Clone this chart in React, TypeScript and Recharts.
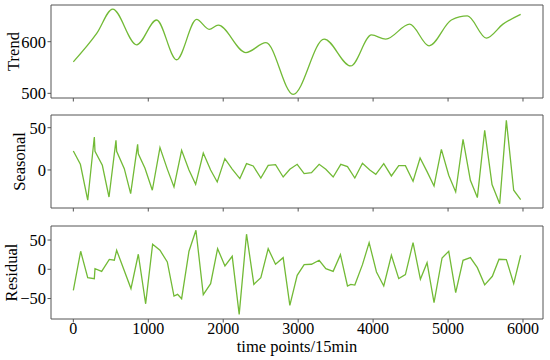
import React from 'react';
import { LineChart, Line, XAxis, YAxis, ReferenceArea } from 'recharts';

// ---------- data ----------
const xTicks = [0, 1000, 2000, 3000, 4000, 5000, 6000];
const xDomain: [number, number] = [-298, 6267];

const trendTime = [0, 312, 525, 845, 1111, 1378, 1645, 1813, 1933, 2303, 2570, 2933, 3347, 3702, 3978, 4169, 4489, 4747, 5044, 5258, 5511, 5733, 5969];
const trendValues = [561, 616, 663, 594, 642, 565, 643, 624, 632, 579, 598, 498, 605, 553, 613, 605, 634, 592, 642, 650, 607, 634, 653];
const trendTicks = [500, 600];
const trendDomain: [number, number] = [491, 671];

const seasonalTime = [0, 94, 192, 280, 289, 387, 476, 569, 578, 680, 765, 858, 867, 956, 1054, 1156, 1254, 1343, 1445, 1543, 1632, 1734, 1832, 1920, 2022, 2120, 2222, 2311, 2400, 2502, 2600, 2698, 2800, 2889, 2987, 3080, 3178, 3280, 3369, 3467, 3569, 3658, 3756, 3858, 3956, 4036, 4142, 4244, 4342, 4431, 4533, 4627, 4720, 4813, 4911, 5009, 5102, 5200, 5298, 5391, 5489, 5587, 5689, 5778, 5876, 5969];
const seasonalValues = [22.5, 6.7, -35.8, 39, 22, 5.5, -32, 35, 22, 1.5, -28, 30.3, 19, 2, -24, 26.4, 1, -20, 23.2, 0, -17, 20, 0, -14.2, 13.4, 1, -10.2, 7.5, 4.7, -9.5, 5.5, 6.3, -8.3, 0.8, 6.7, -4.3, -3.2, 6.7, 0.8, -8.3, 6.7, 3.9, -9.5, 7.9, 0, -5.1, 7.5, -7.1, 5.1, 5.1, -13.4, 14.2, -2, -18.9, 24.4, -6.3, -26, 36.2, -12.2, -32.7, 46.9, -17.3, -40, 58.7, -24, -35];
const seasonalTicks = [0, 50];
const seasonalDomain: [number, number] = [-45, 65];

const residualTime = [0, 98, 192, 280, 289, 378, 480, 547, 578, 769, 867, 965, 1058, 1156, 1254, 1343, 1391, 1445, 1543, 1636, 1734, 1832, 1925, 2023, 2120, 2213, 2311, 2409, 2502, 2600, 2698, 2800, 2889, 2987, 3080, 3178, 3280, 3369, 3467, 3564, 3658, 3702, 3756, 3858, 3947, 4045, 4142, 4244, 4342, 4431, 4533, 4631, 4720, 4813, 4920, 5009, 5102, 5200, 5298, 5391, 5489, 5591, 5680, 5778, 5876, 5969];
const residualValues = [-36, 30.8, -14.4, -16, 1, -3.5, 17, 15.5, 32.5, -33, 25.7, -59, 42.8, 32.5, 12.5, -45.7, -42.8, -50.3, 30.8, 66.8, -43.5, -24.6, 35.3, 5.7, 22.2, -77, 60, -25.7, -14.4, 35.3, 8.6, 19.9, -61.6, -10.3, 7.9, 8.6, 15.4, 1, -3.5, 25, -28.6, -25.7, -27, 7.9, 45.5, -4.6, -28.6, 24, -16, -9.2, 45.5, -17.2, 11.3, -57, 19.3, 30.8, -40, 15.4, 19.9, 2.8, -26.6, -12, 17.1, 16.5, -24.6, 24];
const residualTicks = [-50, 0, 50];
const residualDomain: [number, number] = [-85, 74];

// ---------- style ----------
const FONT = '"Liberation Serif", "Times New Roman", Times, serif';
const LINE_COLOR = '#72ba36';
const SPINE = '#555555';
const W = 550;
const H = 360;
const PLOT_H = 93;
const XAXIS_H = 30;

const toRows = (ts: number[], vs: number[]) => ts.map((t, i) => ({ t, v: vs[i] }));
const fmtMinus = (v: number) => String(v).replace('-', '\u2212');

const EmptyTick = () => <g />;

type PanelProps = {
  rows: { t: number; v: number }[];
  top: number;
  domain: [number, number];
  ticks: number[];
  showXLabels: boolean;
  curve: 'monotone' | 'linear';
};

function Panel({ rows, top, domain, ticks, showXLabels, curve }: PanelProps) {
  return (
    <div style={{ position: 'absolute', left: 0, top: 0, width: W, height: H }}>
      <LineChart
        width={W}
        height={H}
        data={rows}
        margin={{ top, right: 7, left: 0, bottom: H - top - PLOT_H - XAXIS_H }}
      >
        <XAxis
          dataKey="t"
          type="number"
          domain={xDomain}
          ticks={xTicks}
          interval={0}
          allowDataOverflow
          height={XAXIS_H}
          axisLine={false}
          tickLine={{ stroke: SPINE, strokeWidth: 1 }}
          tickSize={3.5}
          tickMargin={0}
          tick={showXLabels ? { fill: '#000', fontSize: 16, fontFamily: FONT } : EmptyTick}
        />
        <YAxis
          type="number"
          domain={domain}
          ticks={ticks}
          interval={0}
          allowDataOverflow
          width={51}
          axisLine={false}
          tickLine={{ stroke: SPINE, strokeWidth: 1 }}
          tickSize={3.5}
          tickMargin={1.5}
          tickFormatter={fmtMinus}
          tick={{ fill: '#000', fontSize: 16.5, fontFamily: FONT }}
        />
        <ReferenceArea
          x1={xDomain[0]}
          x2={xDomain[1]}
          y1={domain[0]}
          y2={domain[1]}
          fill="none"
          fillOpacity={0}
          stroke={SPINE}
          strokeWidth={1}
          ifOverflow="visible"
        />
        <Line
          dataKey="v"
          type={curve}
          stroke={LINE_COLOR}
          strokeWidth={1.3}
          dot={false}
          activeDot={false}
          isAnimationActive={false}
        />
      </LineChart>
    </div>
  );
}

export default function App() {
  const titleStyle: React.CSSProperties = { fontFamily: FONT, fontSize: 16.5, fill: '#000' };
  return (
    <div style={{ position: 'absolute', left: 0, top: 0, width: W, height: H, background: '#fff', overflow: 'hidden' }}>
      <Panel rows={toRows(trendTime, trendValues)} top={5} domain={trendDomain} ticks={trendTicks} showXLabels={false} curve="monotone" />
      <Panel rows={toRows(seasonalTime, seasonalValues)} top={115} domain={seasonalDomain} ticks={seasonalTicks} showXLabels={false} curve="linear" />
      <Panel rows={toRows(residualTime, residualValues)} top={226} domain={residualDomain} ticks={residualTicks} showXLabels={true} curve="linear" />
      <svg width={W} height={H} style={{ position: 'absolute', left: 0, top: 0, pointerEvents: 'none' }}>
        <text transform="translate(18.5,51.5) rotate(-90)" textAnchor="middle" style={titleStyle}>Trend</text>
        <text transform="translate(25,161.5) rotate(-90)" textAnchor="middle" style={titleStyle}>Seasonal</text>
        <text transform="translate(17,272.5) rotate(-90)" textAnchor="middle" style={titleStyle}>Residual</text>
        <text x={297} y={352} textAnchor="middle" style={titleStyle}>time points/15min</text>
      </svg>
    </div>
  );
}
